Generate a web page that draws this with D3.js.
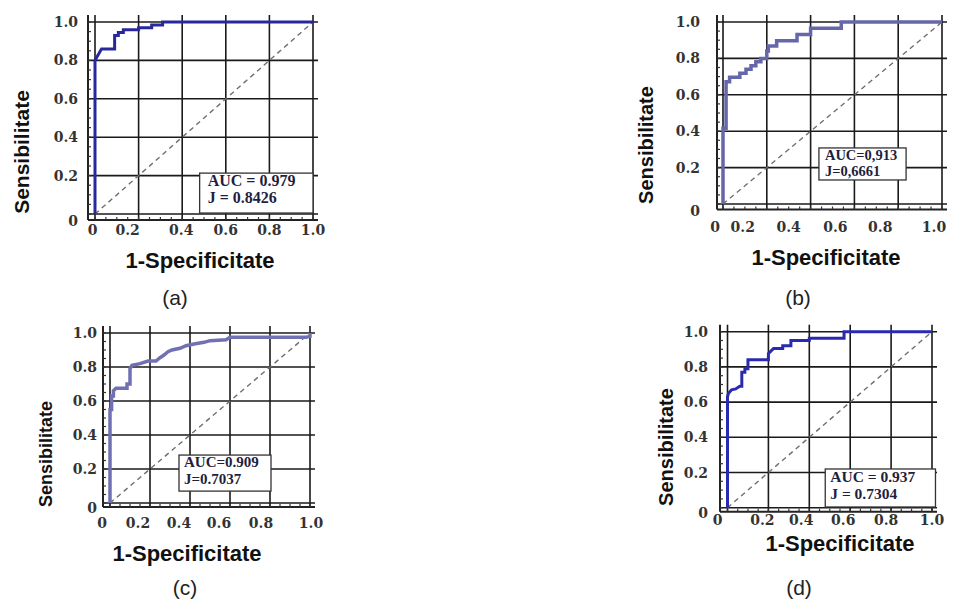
<!DOCTYPE html>
<html>
<head>
<meta charset="utf-8">
<script src="https://cdn.jsdelivr.net/npm/d3@7"></script>
<style>
  body { margin: 0; background: #fff; }
  svg { display: block; }
</style>
</head>
<body>
<svg id="chart" width="959" height="603"></svg>
<script>
// tick values and labels shared by all four panels
const tickValues = [0, 0.2, 0.4, 0.6, 0.8, 1.0];
const tickLabels = ["0", "0.2", "0.4", "0.6", "0.8", "1.0"];

// ROC curves (1-specificity, sensitivity)
const fprA = [0, 0, 0.01, 0.02, 0.03, 0.09, 0.09, 0.107, 0.107, 0.13, 0.13, 0.2, 0.2, 0.26, 0.26, 0.31, 0.31, 1.0];
const tprA = [0, 0.80, 0.82, 0.84, 0.86, 0.86, 0.93, 0.93, 0.945, 0.945, 0.96, 0.96, 0.97, 0.97, 0.984, 0.984, 1.0, 1.0];

const fprB = [0, 0, 0.014, 0.014, 0.03, 0.03, 0.077, 0.077, 0.105, 0.105, 0.128, 0.128, 0.15, 0.15, 0.173, 0.173, 0.2, 0.2, 0.207, 0.207, 0.245, 0.245, 0.338, 0.338, 0.40, 0.40, 0.54, 0.54, 1.0];
const tprB = [0, 0.416, 0.416, 0.672, 0.672, 0.696, 0.696, 0.718, 0.718, 0.74, 0.74, 0.76, 0.76, 0.782, 0.782, 0.80, 0.80, 0.84, 0.84, 0.868, 0.868, 0.897, 0.897, 0.932, 0.932, 0.965, 0.965, 1.0, 1.0];

const fprC = [0, 0, 0.008, 0.008, 0.017, 0.017, 0.03, 0.085, 0.085, 0.1, 0.1, 0.11, 0.15, 0.19, 0.23, 0.25, 0.27, 0.29, 0.31, 0.35, 0.38, 0.42, 0.47, 0.50, 0.58, 0.60, 0.98, 1.0, 1.0];
const tprC = [0, 0.55, 0.55, 0.63, 0.63, 0.66, 0.675, 0.675, 0.70, 0.70, 0.79, 0.81, 0.82, 0.835, 0.835, 0.855, 0.87, 0.89, 0.90, 0.91, 0.925, 0.935, 0.945, 0.955, 0.96, 0.975, 0.975, 0.98, 1.0];

const fprD = [0, 0, 0.005, 0.02, 0.04, 0.06, 0.07, 0.07, 0.085, 0.085, 0.1, 0.1, 0.2, 0.2, 0.225, 0.27, 0.27, 0.31, 0.31, 0.40, 0.40, 0.57, 0.57, 1.0];
const tprD = [0, 0.63, 0.65, 0.67, 0.675, 0.69, 0.69, 0.77, 0.77, 0.79, 0.79, 0.84, 0.84, 0.875, 0.905, 0.905, 0.92, 0.92, 0.95, 0.95, 0.963, 0.963, 1.0, 1.0];

const aucText = ["AUC = 0.979", "AUC=0,913", "AUC=0.909", "AUC = 0.937"];
const jText = ["J = 0.8426", "J=0,6661", "J=0.7037", "J = 0.7304"];
const captions = ["(a)", "(b)", "(c)", "(d)"];
const yTitle = "Sensibilitate";
const xTitle = "1-Specificitate";

// layout of each panel (pixels), box in data units [x0, x1, y0, y1]
const panels = [
  { fpr: fprA, tpr: tprA, x0: 95, x1: 313, y0: 214, y1: 22, ax: 88, ay: 220,
    color: "#28289c", lw: 3, xShift: [-2.5, -11, -1, 0, 0, 0], yLabX: 78, xLabY: 235,
    yt: [29, 152, 21], xt: [200, 268], cap: [175, 305],
    box: [0.48, 1.0, 0.005, 0.213], txt: [8, 13, 30, 16] },
  { fpr: fprB, tpr: tprB, x0: 723, x1: 942, y0: 204, y1: 22, ax: 717, ay: 209.5,
    color: "#6666aa", lw: 3.5, xShift: [-8, -24, -22, -19, -18, -8], yLabX: 700, xLabY: 232,
    yt: [653, 145, 20], xt: [826, 265], cap: [798, 305],
    box: [0.438, 0.836, 0.132, 0.308], txt: [6, 12, 28, 14.5] },
  { fpr: fprC, tpr: tprC, x0: 110, x1: 310, y0: 503, y1: 333, ax: 103, ay: 507,
    color: "#7070b2", lw: 3.5, xShift: [-8, -12, -11, -11, -9, 1], yLabX: 97, xLabY: 528,
    yt: [51.5, 454, 18], xt: [187, 561], cap: [185, 595],
    box: [0.345, 0.805, 0.07, 0.282], txt: [5, 12, 29, 15] },
  { fpr: fprD, tpr: tprD, x0: 727.5, x1: 932, y0: 507.7, y1: 331.7, ax: 720, ay: 511.7,
    color: "#2a2ab0", lw: 3, xShift: [-10, -6, -8, -7, -5, 0], yLabX: 708, xLabY: 525,
    yt: [673, 447, 20], xt: [840, 551], cap: [799, 595],
    box: [0.478, 1.017, 0.004, 0.22], txt: [5, 13, 30, 15.5] }
];

const svg = d3.select("#chart");
const sans = "'Liberation Sans', Arial, sans-serif";

panels.forEach((p, i) => {
  const x = d3.scaleLinear().domain([0, 1]).range([p.x0, p.x1]);
  const y = d3.scaleLinear().domain([0, 1]).range([p.y0, p.y1]);
  const g = svg.append("g");
  const top = p.y1 - 7, right = p.x1 + 5;

  // grid
  g.selectAll(".vg").data(tickValues).enter().append("line")
    .attr("x1", d => x(d)).attr("x2", d => x(d))
    .attr("y1", p.ay).attr("y2", top)
    .attr("stroke", "#1a1a1a").attr("stroke-width", 1.6);
  g.selectAll(".hg").data(tickValues).enter().append("line")
    .attr("x1", p.ax).attr("x2", right)
    .attr("y1", d => y(d)).attr("y2", d => y(d))
    .attr("stroke", "#1a1a1a").attr("stroke-width", 1.6);

  // axis lines
  g.append("line").attr("x1", p.ax).attr("x2", p.ax).attr("y1", top).attr("y2", p.ay)
    .attr("stroke", "#222").attr("stroke-width", 2);
  g.append("line").attr("x1", p.ax).attr("x2", right).attr("y1", p.ay).attr("y2", p.ay)
    .attr("stroke", "#222").attr("stroke-width", 2);

  // minor ticks
  const minor = d3.range(0, 1.001, 0.05);
  g.selectAll(".my").data(minor).enter().append("line")
    .attr("x1", p.ax).attr("x2", p.ax + 3)
    .attr("y1", d => y(d)).attr("y2", d => y(d))
    .attr("stroke", "#333").attr("stroke-width", 1.2);
  g.selectAll(".mx").data(minor).enter().append("line")
    .attr("x1", d => x(d)).attr("x2", d => x(d))
    .attr("y1", p.ay).attr("y2", p.ay - 3)
    .attr("stroke", "#333").attr("stroke-width", 1.2);

  // chance diagonal
  g.append("line")
    .attr("x1", x(0)).attr("y1", y(0)).attr("x2", x(1)).attr("y2", y(1))
    .attr("stroke", "#6e6e6e").attr("stroke-width", 1.4)
    .attr("stroke-dasharray", "5,4");

  // ROC curve
  const pts = p.fpr.map((f, k) => [f, p.tpr[k]]);
  g.append("path")
    .datum(pts)
    .attr("fill", "none")
    .attr("stroke", p.color)
    .attr("stroke-width", p.lw)
    .attr("stroke-linejoin", "miter")
    .attr("d", d3.line().x(d => x(d[0])).y(d => y(d[1])));

  // legend box
  const bx = x(p.box[0]), bw = x(p.box[1]) - bx;
  const by = y(p.box[3]), bh = y(p.box[2]) - by;
  g.append("rect")
    .attr("x", bx).attr("y", by).attr("width", bw).attr("height", bh)
    .attr("fill", "#fff").attr("stroke", "#333").attr("stroke-width", 1.3);
  [aucText[i], jText[i]].forEach((t, k) => {
    g.append("text")
      .attr("x", bx + p.txt[0])
      .attr("y", by + p.txt[1 + k])
      .style("font-family", "'Liberation Serif', 'Times New Roman', serif")
      .style("font-weight", "bold")
      .style("font-size", p.txt[3] + "px")
      .style("fill", "#1f1f3f")
      .text(t);
  });

  // tick labels
  g.selectAll(".xl").data(tickValues).enter().append("text")
    .attr("x", (d, k) => x(d) + p.xShift[k])
    .attr("y", p.xLabY)
    .attr("text-anchor", "middle")
    .style("font-family", "'DejaVu Serif', serif")
    .style("font-weight", "bold")
    .style("font-size", "14px")
    .style("fill", "#333")
    .text((d, k) => tickLabels[k]);
  g.selectAll(".yl").data(tickValues).enter().append("text")
    .attr("x", p.yLabX)
    .attr("y", d => (d === 0 ? p.ay + 1 : y(d)))
    .attr("dy", "0.36em")
    .attr("text-anchor", "end")
    .style("font-family", "'DejaVu Serif', serif")
    .style("font-weight", "bold")
    .style("font-size", "14px")
    .style("fill", "#333")
    .text((d, k) => tickLabels[k]);

  // axis titles
  g.append("text")
    .attr("transform", `translate(${p.yt[0]},${p.yt[1]}) rotate(-90)`)
    .attr("text-anchor", "middle")
    .style("font-family", sans)
    .style("font-weight", "bold")
    .style("font-size", p.yt[2] + "px")
    .style("fill", "#111")
    .text(yTitle);
  g.append("text")
    .attr("x", p.xt[0]).attr("y", p.xt[1])
    .attr("text-anchor", "middle")
    .style("font-family", sans)
    .style("font-weight", "bold")
    .style("font-size", "22px")
    .style("fill", "#111")
    .text(xTitle);

  // caption
  g.append("text")
    .attr("x", p.cap[0]).attr("y", p.cap[1])
    .attr("text-anchor", "middle")
    .style("font-family", sans)
    .style("font-size", "21px")
    .style("fill", "#222")
    .text(captions[i]);
});
</script>
</body>
</html>
